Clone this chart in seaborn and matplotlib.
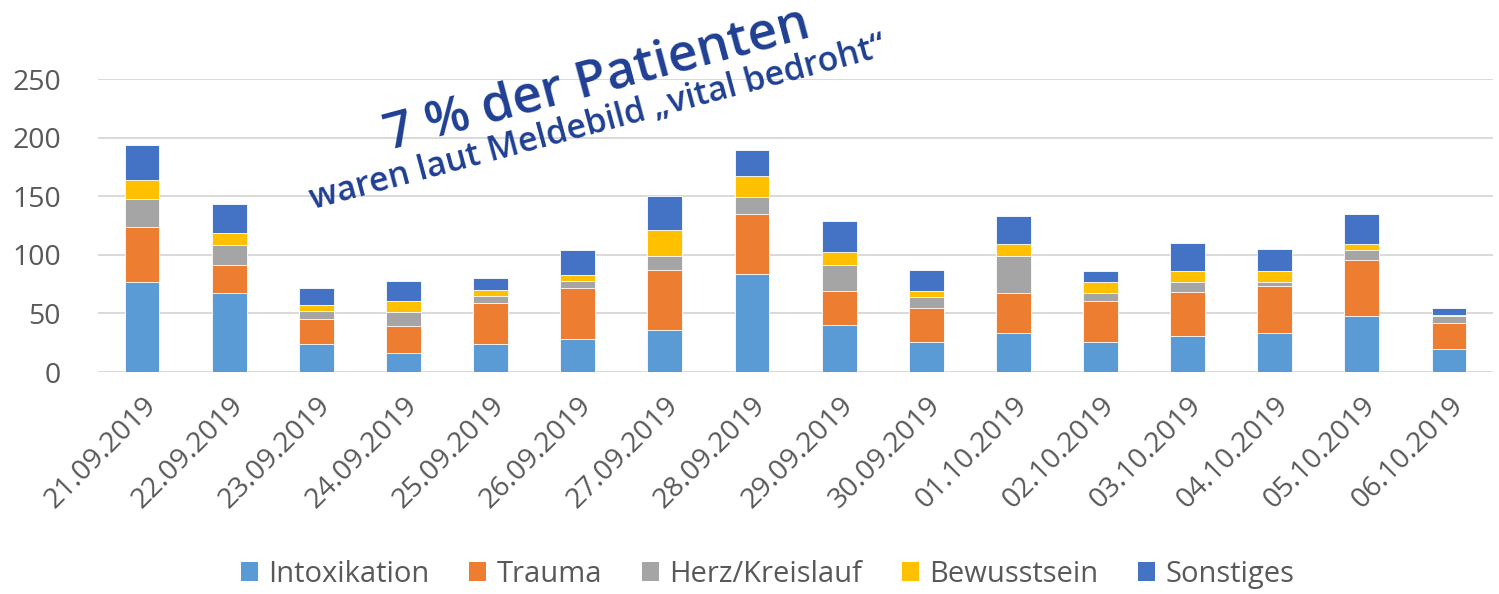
import matplotlib
matplotlib.use("Agg")
import matplotlib.pyplot as plt
import seaborn as sns
import numpy as np
import pandas as pd
from matplotlib.patches import Patch

dates = ["21.09.2019", "22.09.2019", "23.09.2019", "24.09.2019", "25.09.2019",
         "26.09.2019", "27.09.2019", "28.09.2019", "29.09.2019", "30.09.2019",
         "01.10.2019", "02.10.2019", "03.10.2019", "04.10.2019", "05.10.2019",
         "06.10.2019"]
intoxikation = [77, 67, 24, 16, 24, 28, 36, 84, 40, 26, 33, 26, 31, 33, 48, 20]
trauma       = [47, 24, 21, 23, 35, 44, 51, 51, 29, 29, 34, 35, 37, 40, 48, 22]
herz         = [24, 17,  7, 12,  6,  6, 12, 14, 22,  9, 32,  6,  9,  4,  8,  6]
bewusstsein  = [16, 11,  5, 10,  5,  5, 22, 18, 11,  5, 10, 10,  9,  9,  5,  1]
sonstiges    = [30, 24, 15, 17, 10, 21, 29, 22, 27, 18, 24,  9, 24, 19, 26,  6]

series_names = ["Intoxikation", "Trauma", "Herz/Kreislauf", "Bewusstsein", "Sonstiges"]
series_vals = [intoxikation, trauma, herz, bewusstsein, sonstiges]
colors = ["#5B9BD5", "#ED7D31", "#A5A5A5", "#FFC000", "#4472C4"]

sns.set_theme(style="white")
plt.rcParams['font.family'] = ['Open Sans', 'DejaVu Sans']
text_col = "#595959"

fig = plt.figure(figsize=(14.99, 5.94), dpi=100)
ax = fig.add_axes([0.0657, 0.3737, 0.930, 0.4933])

df = pd.DataFrame({"Datum": dates})
cum = np.zeros(len(dates))
cums = []
for v in series_vals:
    cum = cum + np.array(v)
    cums.append(cum.copy())

for name, c, col in reversed(list(zip(series_names, cums, colors))):
    df[name] = c
    sns.barplot(data=df, x="Datum", y=name, color=col, width=0.4, ax=ax,
                saturation=1, edgecolor="white", linewidth=0.6, zorder=3)

ax.set_ylim(0, 250)
ax.set_xlim(-0.5, len(dates) - 0.5)
ax.set_yticks([0, 50, 100, 150, 200, 250])
ax.yaxis.grid(True, color="#D9D9D9", linewidth=1.4, zorder=0)
ax.set_axisbelow(True)
for s in ax.spines.values():
    s.set_visible(False)
ax.set_xlabel("")
ax.set_ylabel("")
ax.tick_params(axis="y", length=0, pad=27, labelsize=20.5, labelcolor=text_col)
ax.tick_params(axis="x", length=0, pad=14, labelsize=20.5, labelcolor=text_col)
plt.setp(ax.get_xticklabels(), rotation=45, ha="right", rotation_mode="anchor")

handles = [Patch(facecolor=c, edgecolor="none") for c in colors]
fig.legend(handles, series_names, loc="center", bbox_to_anchor=(0.512, 0.033),
           ncol=5, frameon=False, fontsize=21, labelcolor=text_col,
           handlelength=0.6, handleheight=0.6, handletextpad=0.35,
           columnspacing=1.35)

blue = "#1F3F93"
fig.text(597 / 1499, 1 - 80 / 594, "7 % der Patienten", fontsize=37,
         fontweight="semibold", color=blue, rotation=15, ha="center", va="center")
fig.text(598 / 1499, 1 - 123 / 594, "waren laut Meldebild \u201evital bedroht\u201c",
         fontsize=24.5, fontweight="semibold", color=blue, rotation=15,
         ha="center", va="center")

fig.savefig("out.png", dpi=100)
